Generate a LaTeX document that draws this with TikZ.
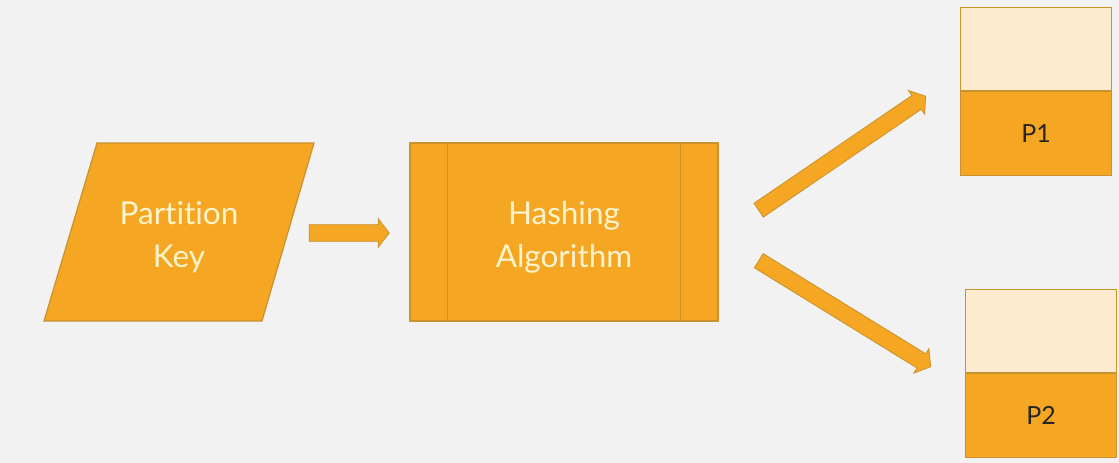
\documentclass[tikz,border=0pt]{standalone}
\usepackage{fontspec}
\setmainfont{Lato}[Ligatures={NoCommon,NoRequired,NoContextual}]
\usetikzlibrary{shapes.arrows,calc}
\definecolor{bg}{HTML}{F2F2F2}
\definecolor{org}{HTML}{F5A623}
\definecolor{orgline}{HTML}{C8922C}
\definecolor{light}{HTML}{FDEBD0}
\definecolor{cream}{HTML}{FFF3CC}
\tikzset{
  box/.style={draw=orgline, fill=org, line width=1.2pt, inner sep=0pt},
  lightbox/.style={draw=orgline, fill=light, line width=1.2pt, inner sep=0pt},
  wtext/.style={text=cream, font=\fontsize{31.5}{43}\selectfont, align=center},
  ptext/.style={text=black!85, font=\fontsize{25}{30}\selectfont},
  blockarrow/.style={single arrow, draw=orgline, fill=org, line width=0.8pt,
    inner xsep=0pt, inner ysep=5.5pt, text height=0pt, text depth=0pt,
    single arrow head extend=6pt, single arrow head indent=0pt, single arrow tip angle=105,
    shape border uses incircle},
}
\newcommand\blockarr[2]{%
  \path let \p1=($(#2)-(#1)$), \n1={atan2(\y1,\x1)}, \n2={veclen(\x1,\y1)} in
    node[blockarrow, rotate=\n1, minimum height=\n2] at ($(#1)!0.5!(#2)$) {};}
\begin{document}
\begin{tikzpicture}[x=1pt,y=-1pt]
\fill[bg] (0,0) rectangle (1119,463);
\useasboundingbox (0,0) rectangle (1119,463);
% partition key parallelogram
\draw[box] (97,143) -- (314,143) -- (262,321) -- (44,321) -- cycle;
\node[wtext] (key) at (179,237) {Partition\\Key};
% hashing box
\node[box, minimum width=308pt, minimum height=178pt] (hash) at (564,232) {};
\draw[orgline, line width=1.2pt] ($(hash.north west)+(38,0)$) -- ($(hash.south west)+(38,0)$);
\draw[orgline, line width=1.2pt] ($(hash.north east)+(-38,0)$) -- ($(hash.south east)+(-38,0)$);
\node[wtext] at ($(hash.center)+(0,5)$) {Hashing\\Algorithm};
% P1
\node[lightbox, minimum width=151pt, minimum height=83pt, anchor=north west] (p1top) at (960,7) {};
\node[box, minimum width=151pt, minimum height=84pt, anchor=north west] (p1) at (p1top.south west) {};
\node[ptext] at (p1.center) {P1};
% P2
\node[lightbox, minimum width=151pt, minimum height=83pt, anchor=north west] (p2top) at (965,289) {};
\node[box, minimum width=151pt, minimum height=84pt, anchor=north west] (p2) at (p2top.south west) {};
\node[ptext] at (p2.center) {P2};
% arrows
\coordinate (a1s) at (306,233);
\coordinate (a1e) at (386,233);
\coordinate (a2s) at (756,212);
\coordinate (a2e) at (923,98);
\coordinate (a3s) at (756,259);
\coordinate (a3e) at (928,365);
\blockarr{a1s}{a1e}
\blockarr{a2s}{a2e}
\blockarr{a3s}{a3e}
\end{tikzpicture}
\end{document}
